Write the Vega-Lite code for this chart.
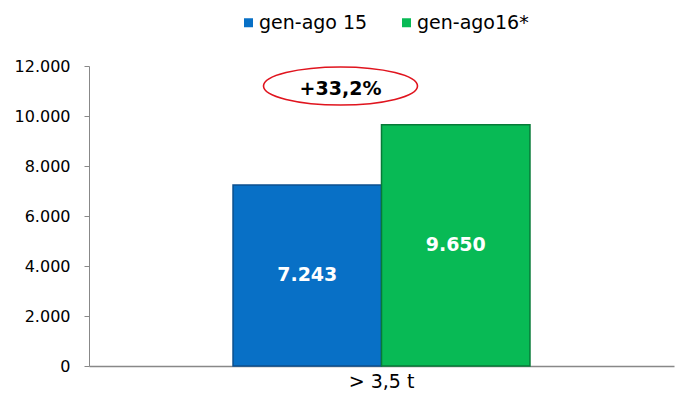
{
  "$schema": "https://vega.github.io/schema/vega-lite/v6.json",
  "autosize": "none",
  "width": 585,
  "height": 300,
  "padding": {"left": 89, "top": 66, "right": 8, "bottom": 48},
  "background": "white",
  "config": {
    "font": "DejaVu Sans",
    "view": {"stroke": null},
    "locale": {"number": {"decimal": ",", "thousands": ".", "grouping": [3], "currency": ["€", ""]}}
  },
  "datasets": {
    "bars": [
      {"cat": "> 3,5 t", "period": "gen-ago 15", "value": 7243},
      {"cat": "> 3,5 t", "period": "gen-ago16*", "value": 9650}
    ],
    "note": [
      {"cat": "> 3,5 t", "pos": 11200, "label": "+33,2%"}
    ]
  },
  "layer": [
    {
      "data": {"name": "bars"},
      "mark": {"type": "bar", "strokeWidth": 1.5},
      "encoding": {
        "x": {
          "field": "cat", "type": "nominal",
          "scale": {"paddingInner": 0, "paddingOuter": 0.485},
          "axis": {
            "title": null, "labelAngle": 0, "ticks": false,
            "domainColor": "#888888", "domainWidth": 1.5,
            "labelFontSize": 19, "labelColor": "#000000", "labelPadding": 6
          }
        },
        "xOffset": {"field": "period", "type": "nominal", "scale": {"paddingInner": 0, "paddingOuter": 0}},
        "y": {
          "field": "value", "type": "quantitative",
          "scale": {"domain": [0, 12000], "nice": false},
          "axis": {
            "title": null, "values": [0, 2000, 4000, 6000, 8000, 10000, 12000],
            "format": ",.0f", "grid": false,
            "domainColor": "#888888", "tickColor": "#888888", "tickSize": 5,
            "labelFontSize": 16, "labelColor": "#000000", "labelPadding": 14
          }
        },
        "fill": {
          "field": "period", "type": "nominal",
          "scale": {"domain": ["gen-ago 15", "gen-ago16*"], "range": ["#0870C6", "#08BA55"]},
          "legend": {
            "title": null, "orient": "none", "direction": "horizontal",
            "legendX": 150, "legendY": -53,
            "symbolType": "square", "symbolSize": 81, "symbolStrokeWidth": 0,
            "labelFontSize": 19, "labelColor": "#000000", "labelOffset": 1,
            "columnPadding": 29
          }
        },
        "stroke": {
          "field": "period", "type": "nominal",
          "scale": {"domain": ["gen-ago 15", "gen-ago16*"], "range": ["#0B4F8E", "#077A38"]},
          "legend": null
        }
      }
    },
    {
      "data": {"name": "bars"},
      "transform": [{"calculate": "datum.value / 2", "as": "mid"}],
      "mark": {"type": "text", "color": "white", "fontWeight": "bold", "fontSize": 19, "baseline": "middle"},
      "encoding": {
        "x": {"field": "cat", "type": "nominal"},
        "xOffset": {"field": "period", "type": "nominal"},
        "y": {"field": "mid", "type": "quantitative"},
        "text": {"field": "value", "type": "quantitative", "format": ",.0f"}
      }
    },
    {
      "data": {"name": "note"},
      "mark": {
        "type": "point", "filled": false, "stroke": "#E0141E", "strokeWidth": 1.6, "opacity": 1,
        "size": 23716, "xOffset": -41,
        "shape": "M -1 0 C -1 -0.1364 -0.5523 -0.247 0 -0.247 C 0.5523 -0.247 1 -0.1364 1 0 C 1 0.1364 0.5523 0.247 0 0.247 C -0.5523 0.247 -1 0.1364 -1 0 Z"
      },
      "encoding": {
        "x": {"field": "cat", "type": "nominal"},
        "y": {"field": "pos", "type": "quantitative"}
      }
    },
    {
      "data": {"name": "note"},
      "mark": {"type": "text", "fontWeight": "bold", "fontSize": 19, "color": "#000000", "baseline": "middle", "dx": -41, "dy": 3},
      "encoding": {
        "x": {"field": "cat", "type": "nominal"},
        "y": {"field": "pos", "type": "quantitative"},
        "text": {"field": "label"}
      }
    }
  ]
}
